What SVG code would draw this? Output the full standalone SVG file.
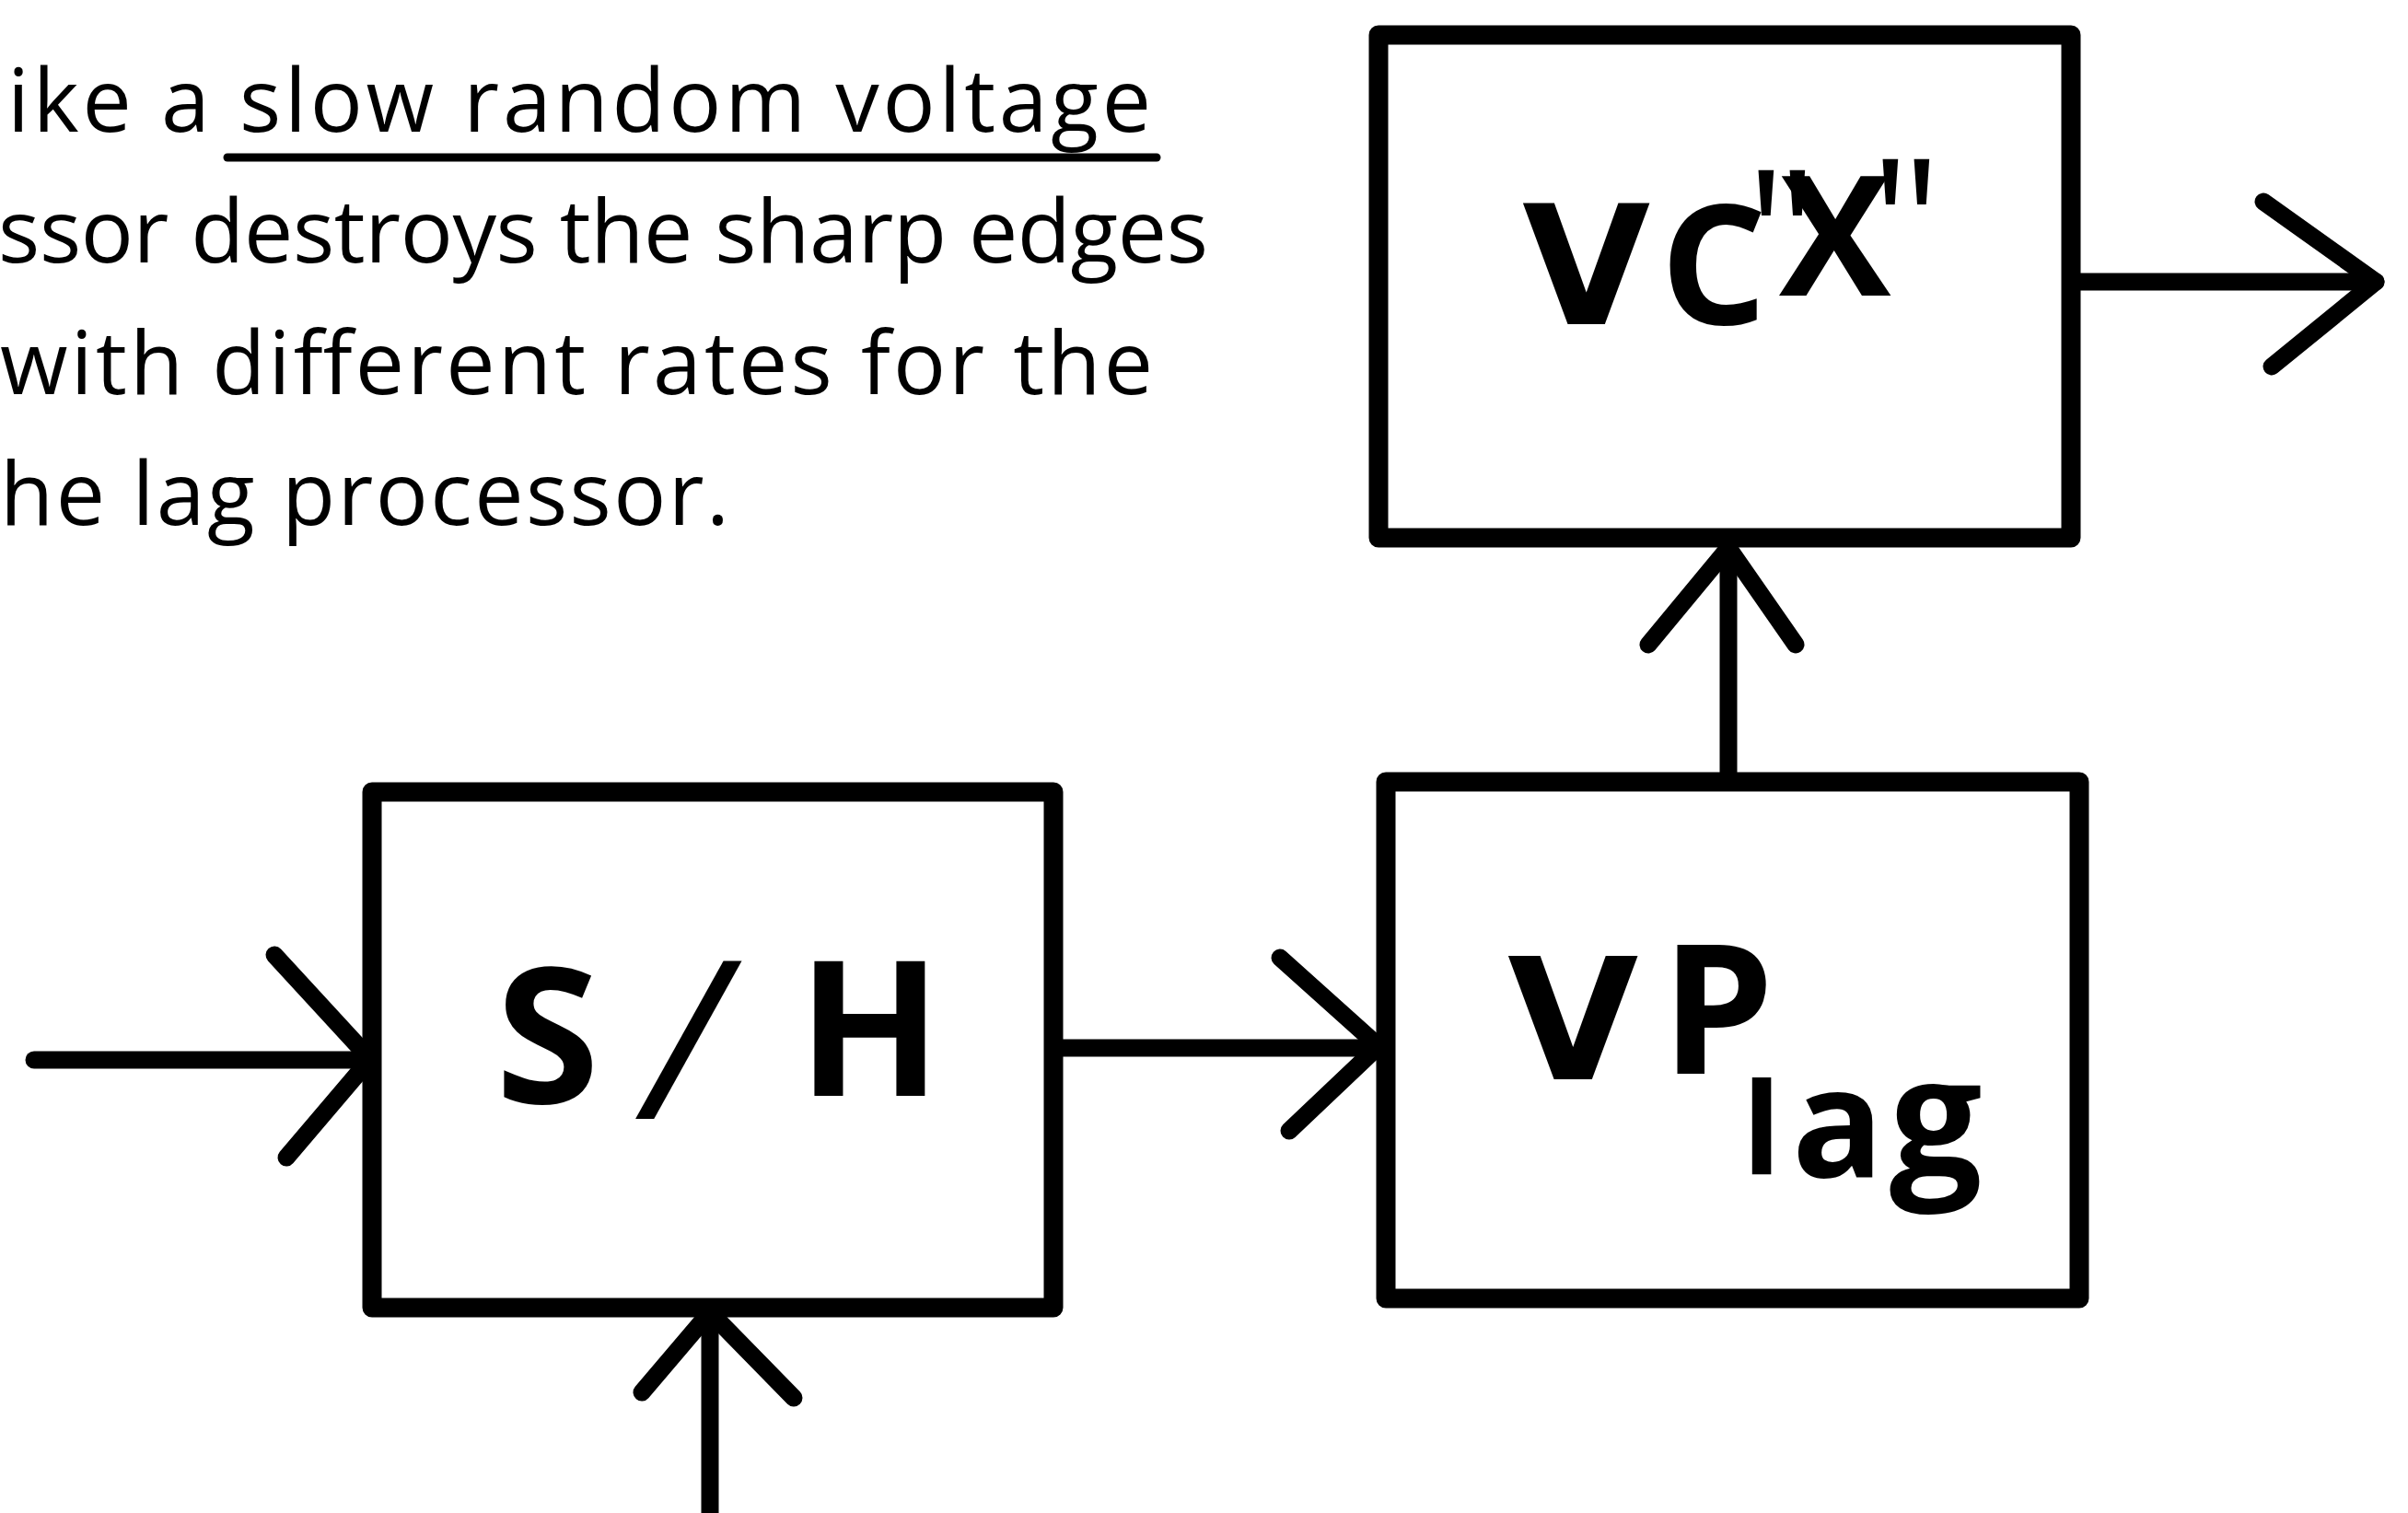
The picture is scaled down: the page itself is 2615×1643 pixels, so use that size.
<svg xmlns="http://www.w3.org/2000/svg" width="2615" height="1643" viewBox="0 0 2615 1643">
<style>
.para{font-family:"Open Sans","Liberation Sans",sans-serif;font-size:95px;fill:#000}
.box{fill:none;stroke:#000;stroke-width:21;stroke-linejoin:round}
.conn{fill:none;stroke:#000;stroke-width:19;stroke-linecap:round;stroke-linejoin:round}
.head{fill:none;stroke:#000;stroke-width:19;stroke-linecap:round;stroke-linejoin:round}
.lbl{font-family:"Open Sans","Liberation Sans",sans-serif;font-weight:700;fill:#000}
.wide{font-family:"DejaVu Sans","Open Sans",sans-serif;font-weight:700}
</style>
<rect width="2615" height="1643" fill="#fff"/>
<g id="paragraph">
<text class="para" x="8" y="143" textLength="1242" lengthAdjust="spacing">ike a slow random voltage</text>
<line x1="247" y1="171" x2="1256" y2="171" stroke="#000" stroke-width="9" stroke-linecap="round"/>
<text class="para" x="-2" y="285" textLength="1314" lengthAdjust="spacing">ssor destroys the sharp edges</text>
<text class="para" x="0" y="428" textLength="1252" lengthAdjust="spacing">with different rates for the</text>
<text class="para" x="0" y="570" textLength="792" lengthAdjust="spacing">he lag processor.</text>
</g>
<g id="node-sh">
<rect class="box" x="404" y="860" width="740" height="560"/>
<text class="lbl" font-size="205" y="1198"><tspan x="538">S</tspan><tspan x="701" y="1215" font-size="240" font-weight="400" font-style="italic">/</tspan><tspan x="866" y="1190">H</tspan></text>
</g>
<g id="node-vp">
<rect class="box" x="1505" y="849" width="753" height="561"/>
<text class="lbl" y="1172"><tspan class="wide" x="1637" font-size="184">V</tspan><tspan x="1804" y="1166" font-size="195">P</tspan><tspan x="1892" y="1275" font-size="138">l</tspan><tspan x="1946" y="1278" font-size="165">a</tspan><tspan x="2052" y="1276" font-size="178">g</tspan></text>
</g>
<g id="node-vcx">
<rect class="box" x="1497" y="38" width="752" height="546"/>
<text class="lbl" y="352" font-size="182"><tspan class="wide" x="1653" font-size="180">V</tspan><tspan x="1803">C</tspan><tspan x="1897" y="321" font-size="190" font-weight="400">"</tspan><tspan x="1932">X</tspan><tspan x="2032" y="309" font-size="190" font-weight="400">"</tspan></text>
</g>
<g id="connectors">
<path class="conn" d="M37 1151H404"/>
<path class="head" d="M298 1037L402 1150L311 1257"/>
<path class="conn" d="M771 1643V1420"/>
<path class="head" d="M697 1512L771 1425L862 1518"/>
<path class="conn" d="M1144 1138H1505"/>
<path class="head" d="M1390 1040L1497 1136L1400 1228"/>
<path class="conn" d="M1877 849V584"/>
<path class="head" d="M1790 700L1877 595L1950 700"/>
<path class="conn" d="M2249 306H2580"/>
<path class="head" d="M2458 219L2580 306L2467 398"/>
</g>
</svg>
